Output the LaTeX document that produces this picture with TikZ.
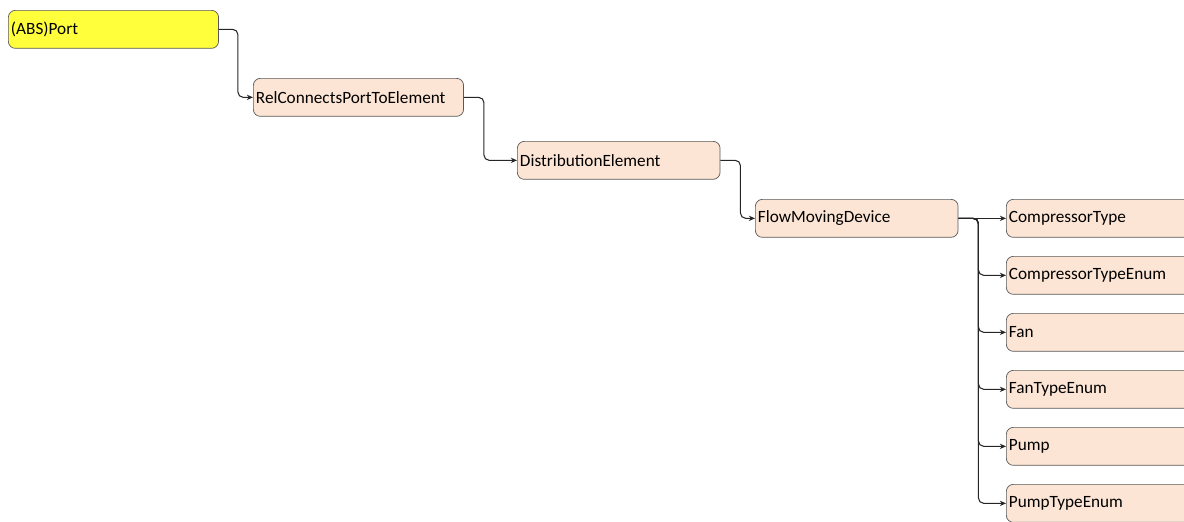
\documentclass[tikz,border=0pt]{standalone}
\usepackage{fontspec}
\setmainfont{Carlito}
\usetikzlibrary{arrows.meta}
\definecolor{peach}{RGB}{252,229,213}
\definecolor{lemon}{RGB}{255,255,60}

\begin{document}
\begin{tikzpicture}[x=0.02cm,y=-0.02cm,>={Stealth[length=3.5pt,width=3pt]},
 cls/.style={draw=black!65,fill=peach,rounded corners=4pt,anchor=north west,
  text width=#1,align=left,inner xsep=1.5pt,minimum height=0.76cm,
  font=\fontsize{9.8}{11}\selectfont},
 cls/.default=3.95cm,
 link/.style={->,draw=black!85,semithick,rounded corners=3pt}]
 \useasboundingbox (0,0) rectangle (1184,521);
 % chain down to the device
 \node[cls=4.1cm,fill=lemon] (port) at (8,10) {(ABS)Port};
 \node[cls=4.1cm] (rel) at (253,78) {RelConnectsPortToElement};
 \node[cls] (dist) at (517,141) {DistributionElement};
 \node[cls] (fmd) at (755,199) {FlowMovingDevice};
 \draw[link] (port.east) -- ++(19,0) |- (rel.west);
 \draw[link] (rel.east) -- ++(20,0) |- (dist.west);
 \draw[link] (dist.east) -- ++(20,0) |- (fmd.west);
 % types hanging off the device
 \foreach \n/\t [count=\i from 0] in {ct/CompressorType,cte/CompressorTypeEnum,
   fan/Fan,fte/FanTypeEnum,pump/Pump,pte/PumpTypeEnum}{
  \node[cls] (\n) at (1006,199+57*\i) {\t};
  \ifnum\i=0
   \draw[link] (fmd.east) -- (\n.west);
  \else
   \draw[link] (fmd.east) -- ++(20,0) |- (\n.west);
  \fi
 }
\end{tikzpicture}
\end{document}
